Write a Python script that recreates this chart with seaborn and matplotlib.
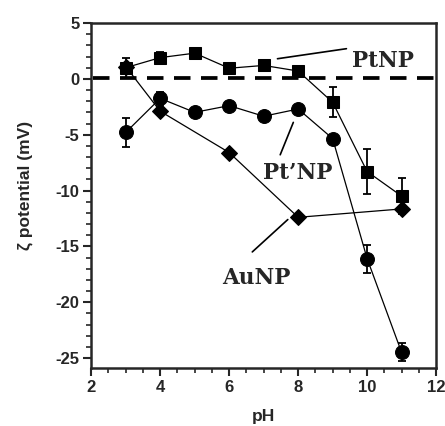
import numpy as np
import pandas as pd
import seaborn as sns
import matplotlib.pyplot as plt
from matplotlib.ticker import MultipleLocator

# data
ph_pt = [3, 4, 5, 6, 7, 8, 9, 10, 11]
zeta_pt = [1.0, 1.9, 2.3, 0.95, 1.2, 0.7, -2.1, -8.3, -10.5]
err_pt = [0.9, 0.5, 0.0, 0.0, 0.0, 0.0, 1.35, 2.0, 1.6]

ph_ptp = [3, 4, 5, 6, 7, 8, 9, 10, 11]
zeta_ptp = [-4.8, -1.75, -3.0, -2.4, -3.35, -2.7, -5.35, -16.1, -24.5]
err_ptp = [1.3, 0.6, 0.0, 0.0, 0.0, 0.0, 0.0, 1.25, 0.8]

ph_au = [3, 4, 6, 8, 11]
zeta_au = [1.1, -2.9, -6.6, -12.4, -11.65]

sns.set_style("ticks")
plt.rcParams['font.family'] = ['Liberation Sans', 'DejaVu Sans']
plt.rcParams['axes.unicode_minus'] = False

fig = plt.figure(figsize=(4.45, 4.26), dpi=100)
ax = fig.add_axes([0.205, 0.136, 0.775, 0.81])

df_pt = pd.DataFrame({"pH": ph_pt, "zeta": zeta_pt})
df_ptp = pd.DataFrame({"pH": ph_ptp, "zeta": zeta_ptp})
df_au = pd.DataFrame({"pH": ph_au, "zeta": zeta_au})

ax.plot([2.05, 12], [0.05, 0.05], color="black", lw=2.7, dashes=(4.4, 2.8), zorder=1)

sns.lineplot(data=df_pt, x="pH", y="zeta", ax=ax, color="black", lw=0.9,
             marker="s", markersize=9, markeredgecolor="black", zorder=3)
sns.lineplot(data=df_ptp, x="pH", y="zeta", ax=ax, color="black", lw=0.9,
             marker="o", markersize=10, markeredgecolor="black", zorder=3)
sns.lineplot(data=df_au, x="pH", y="zeta", ax=ax, color="black", lw=0.9,
             marker="D", markersize=8, markeredgecolor="black", zorder=3)

ax.errorbar(ph_pt, zeta_pt, yerr=err_pt, fmt="none", ecolor="black",
            elinewidth=1.3, capsize=3, capthick=1.3, zorder=2)
ax.errorbar(ph_ptp, zeta_ptp, yerr=err_ptp, fmt="none", ecolor="black",
            elinewidth=1.3, capsize=3, capthick=1.3, zorder=2)

# labels with leader lines
lab_font = dict(family="DejaVu Serif", fontsize=15.5, fontweight="bold")
ax.plot([7.4, 9.4], [1.8, 2.7], color="black", lw=1.2)
ax.text(10.45, 1.6, "PtNP", ha="center", va="center", **lab_font)
ax.plot([7.86, 7.48], [-3.9, -6.8], color="black", lw=1.2)
ax.text(8.0, -8.4, "Pt\u2019NP", ha="center", va="center", **lab_font)
ax.plot([7.7, 6.67], [-12.6, -15.5], color="black", lw=1.2)
ax.text(6.8, -17.8, "AuNP", ha="center", va="center", **lab_font)

ax.set_xlim(2, 12)
ax.set_ylim(-25.9, 5)
ax.xaxis.set_major_locator(MultipleLocator(2))
ax.xaxis.set_minor_locator(MultipleLocator(0.5))
ax.yaxis.set_major_locator(MultipleLocator(5))
ax.yaxis.set_minor_locator(MultipleLocator(1))
ax.tick_params(which="major", direction="out", length=5.5, width=1.5,
               labelsize=12, pad=3)
ax.tick_params(which="minor", direction="out", length=3.5, width=1.2)
for lbl in ax.get_xticklabels() + ax.get_yticklabels():
    lbl.set_fontweight("bold")
for sp in ax.spines.values():
    sp.set_visible(True)
    sp.set_linewidth(1.8)

ax.set_xlabel("pH", fontsize=12.5, fontweight="bold")
ax.set_ylabel("\u03b6 potential (mV)", fontsize=12.5, fontweight="bold")
ax.xaxis.set_label_coords(0.5, -0.118)
ax.yaxis.set_label_coords(-0.17, 0.53)

fig.savefig("out.png", dpi=100)
